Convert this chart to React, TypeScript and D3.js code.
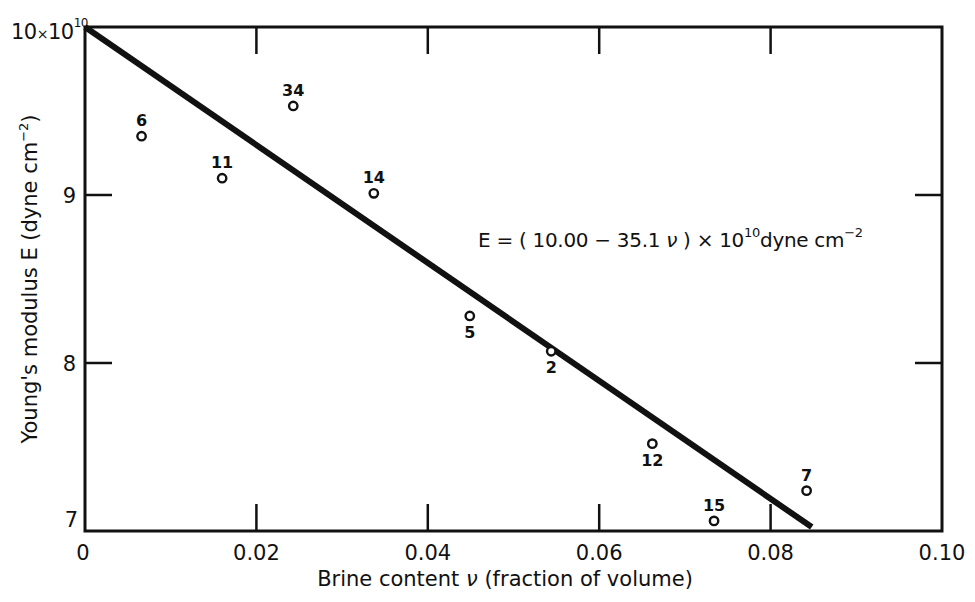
import React from "react";
import * as d3 from "d3";

const sampleIds = ["6", "11", "34", "14", "5", "2", "12", "15", "7"];
const brine = [0.0066, 0.016, 0.0243, 0.0337, 0.0449, 0.0544, 0.0662, 0.0734, 0.0842];
const modulus = [9.35, 9.1, 9.53, 9.01, 8.28, 8.07, 7.52, 7.06, 7.24];
const labelBelow = [false, false, false, false, true, true, true, false, false];
const xTicks = [0, 0.02, 0.04, 0.06, 0.08, 0.1];
const xTickLabels = ["0", "0.02", "0.04", "0.06", "0.08", "0.10"];
const yTicks = [7, 8, 9, 10];
const fitIntercept = 10.0;
const fitSlope = -35.1;
const fitRange = [0, 0.0848];

export default function App() {
  const W = 975, H = 602;
  const x = d3.scaleLinear().domain([0, 0.1]).range([85, 942]);
  const y = d3.scaleLinear().domain([7, 10]).range([531, 27]);
  const font = "'DejaVu Sans', sans-serif";
  const tickLen = 27;
  const fit = d3.line<number>().x((v) => x(v)).y((v) => y(fitIntercept + fitSlope * v));
  return (
    <svg width={W} height={H} style={{ position: "absolute", left: 0, top: 0, background: "#fff" }} fontFamily={font}>
      <rect x={0} y={0} width={W} height={H} fill="#fff" />
      {/* frame */}
      <rect x={x(0)} y={y(10)} width={x(0.1) - x(0)} height={y(7) - y(10)} fill="none" stroke="#111" strokeWidth={3} />
      {/* x ticks bottom & top */}
      {xTicks.slice(1, -1).map((t) => (
        <g key={"xt" + t}>
          <line x1={x(t)} x2={x(t)} y1={y(7)} y2={y(7) - tickLen} stroke="#111" strokeWidth={2.5} />
          <line x1={x(t)} x2={x(t)} y1={y(10)} y2={y(10) + tickLen} stroke="#111" strokeWidth={2.5} />
        </g>
      ))}
      {yTicks.slice(1, -1).map((t) => (
        <g key={"yt" + t}>
          <line x1={x(0)} x2={x(0) + tickLen} y1={y(t)} y2={y(t)} stroke="#111" strokeWidth={2.5} />
          <line x1={x(0.1)} x2={x(0.1) - tickLen} y1={y(t)} y2={y(t)} stroke="#111" strokeWidth={2.5} />
        </g>
      ))}
      {/* x tick labels */}
      {xTicks.map((t, i) => (
        <text key={"xl" + t} x={x(t) + (i === 0 ? -2 : 0)} y={y(7) + 29} fontSize={21} textAnchor="middle" fill="#111">
          {xTickLabels[i]}
        </text>
      ))}
      {/* y tick labels */}
      <text x={x(0) - 9} y={y(9) + 8} fontSize={21} textAnchor="end" fill="#111">9</text>
      <text x={x(0) - 9} y={y(8) + 8} fontSize={21} textAnchor="end" fill="#111">8</text>
      <text x={x(0) - 7} y={y(7) - 4} fontSize={21} textAnchor="end" fill="#111">7</text>
      <text x={11} y={y(10) + 12} fontSize={21} letterSpacing={-0.5} textAnchor="start" fill="#111">
        10<tspan fontSize={14}>×</tspan>10<tspan dy={-12} fontSize={12}>10</tspan>
      </text>
      {/* axis titles */}
      <text x={505} y={586} fontSize={21} textAnchor="middle" fill="#111">
        Brine content <tspan fontStyle="italic">ν</tspan> (fraction of volume)
      </text>
      <text transform={`translate(37, ${y(8.5)}) rotate(-90)`} fontSize={21} textAnchor="middle" fill="#111">
        Young's modulus E (dyne cm<tspan dy={-9} fontSize={13}>−2</tspan><tspan dy={9}>)</tspan>
      </text>
      {/* fit line */}
      <path d={fit(fitRange) || ""} fill="none" stroke="#111" strokeWidth={6} />
      {/* points */}
      {brine.map((v, i) => (
        <g key={"p" + i}>
          <circle cx={x(v)} cy={y(modulus[i])} r={4.2} fill="#fff" stroke="#111" strokeWidth={2.4} />
          <text x={x(v)} y={y(modulus[i]) + (labelBelow[i] ? 22 : -10)} fontSize={16} fontWeight="bold" textAnchor="middle" fill="#111">
            {sampleIds[i]}
          </text>
        </g>
      ))}
      {/* equation */}
      <text x={478} y={247} fontSize={20} letterSpacing={-0.3} fill="#111">
        E = ( 10.00 − 35.1 <tspan fontStyle="italic">ν</tspan> ) × 10<tspan dy={-10} fontSize={13}>10</tspan>
        <tspan dy={10}>dyne cm</tspan><tspan dy={-10} fontSize={13}>−2</tspan>
      </text>
    </svg>
  );
}
